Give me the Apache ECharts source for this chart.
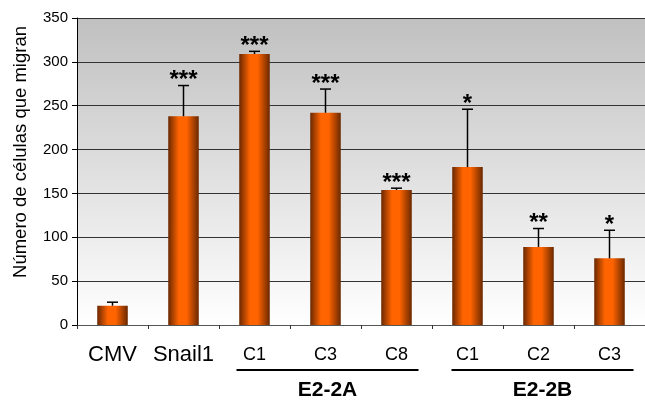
<!DOCTYPE html>
<html><head><meta charset="utf-8">
<script src="https://cdn.jsdelivr.net/npm/echarts@6/dist/echarts.min.js"></script>
<style>html,body{margin:0;padding:0;background:#fff}#c{width:645px;height:401px}</style>
</head><body><div id="c"></div>
<script>
const categories = ['CMV','Snail1','C1','C3','C8','C1','C2','C3'];
const values = [22, 238, 309, 242, 154, 180, 89, 76];
const errors = [4, 35, 3, 27, 2, 66, 21, 32];
const stars = ['', '***', '***', '***', '***', '*', '**', '*'];
const groups = [{name:'E2-2A', from:2, to:4}, {name:'E2-2B', from:5, to:7}];
const yTicks = [0,50,100,150,200,250,300,350];
const yTitle = 'Número de células que migran';

const chart = echarts.init(document.getElementById('c'));
const font = 'Liberation Sans, Arial, sans-serif';
const barGrad = new echarts.graphic.LinearGradient(0,0,1,0,[
  {offset:0,color:'#6a2800'},{offset:0.35,color:'#ff6400'},{offset:0.6,color:'#ff6400'},{offset:1,color:'#6a2800'}]);

chart.setOption({
  animation:false,
  grid:{left:77,right:-2,top:18,bottom:76,show:true,borderWidth:0,
    backgroundColor:new echarts.graphic.LinearGradient(0,0,0,1,[{offset:0,color:'#c0c0c0'},{offset:1,color:'#ffffff'}])},
  xAxis:{type:'category',data:categories,
    axisLine:{lineStyle:{color:'#555',width:1}},
    axisTick:{show:true,length:4,lineStyle:{color:'#333'}},
    axisLabel:{margin:19,interval:0,formatter:(v,i)=> i<2 ? '{b|'+v+'}' : '{s|'+v+'}',
      rich:{b:{fontSize:22,fontFamily:font,color:'#000'},s:{fontSize:18,fontFamily:font,color:'#000',padding:[2,0,0,0]}}}},
  yAxis:{type:'value',min:0,max:350,interval:50,
    axisLine:{show:true,lineStyle:{color:'#000',width:1}},
    axisTick:{show:true,length:5,lineStyle:{color:'#000'}},
    axisLabel:{fontSize:15,fontFamily:font,color:'#000',margin:9,formatter:v=>yTicks.includes(v)?String(v):''},
    splitLine:{lineStyle:{color:'#333',width:1}}},
  series:[
    {type:'bar',data:values,barWidth:'43%',itemStyle:{color:barGrad}},
    {type:'custom',data:values.map((v,i)=>[i,v,errors[i]]),z:5,
      renderItem:(params,api)=>{
        const i=api.value(0), v=api.value(1), e=api.value(2);
        const b=api.coord([i,v]), t=api.coord([i,v+e]);
        return {type:'group',children:[
          {type:'line',shape:{x1:b[0],y1:b[1],x2:t[0],y2:t[1]},style:{stroke:'#000',lineWidth:1.5}},
          {type:'line',shape:{x1:t[0]-5.5,y1:t[1],x2:t[0]+5.5,y2:t[1]},style:{stroke:'#000',lineWidth:1.5}},
          {type:'text',style:{text:stars[params.dataIndex],x:t[0],y:t[1]-5,align:'center',verticalAlign:'middle',
            fontSize:24,fontWeight:'bold',fontFamily:font,fill:'#000'}}
        ]};
      }}
  ]
});

function drawGroups(){
  const g=[{type:'text',rotation:Math.PI/2,x:21,y:152,style:{text:yTitle,align:'center',verticalAlign:'middle',
      fontSize:18.5,fontFamily:font,fill:'#000'}}];
  const pad=[[18,22],[16,24]];
  groups.forEach((gr,k)=>{
    const a=chart.convertToPixel({xAxisIndex:0},gr.from)-pad[k][0];
    const b=chart.convertToPixel({xAxisIndex:0},gr.to)+pad[k][1];
    g.push({type:'line',shape:{x1:a,y1:370,x2:b,y2:370},style:{stroke:'#000',lineWidth:2}});
    g.push({type:'text',style:{text:gr.name,x:(a+b)/2,y:390,align:'center',verticalAlign:'middle',
      fontSize:21,fontWeight:'bold',fontFamily:font,fill:'#000'}});
  });
  chart.setOption({graphic:g});
}
drawGroups();
</script></body></html>
